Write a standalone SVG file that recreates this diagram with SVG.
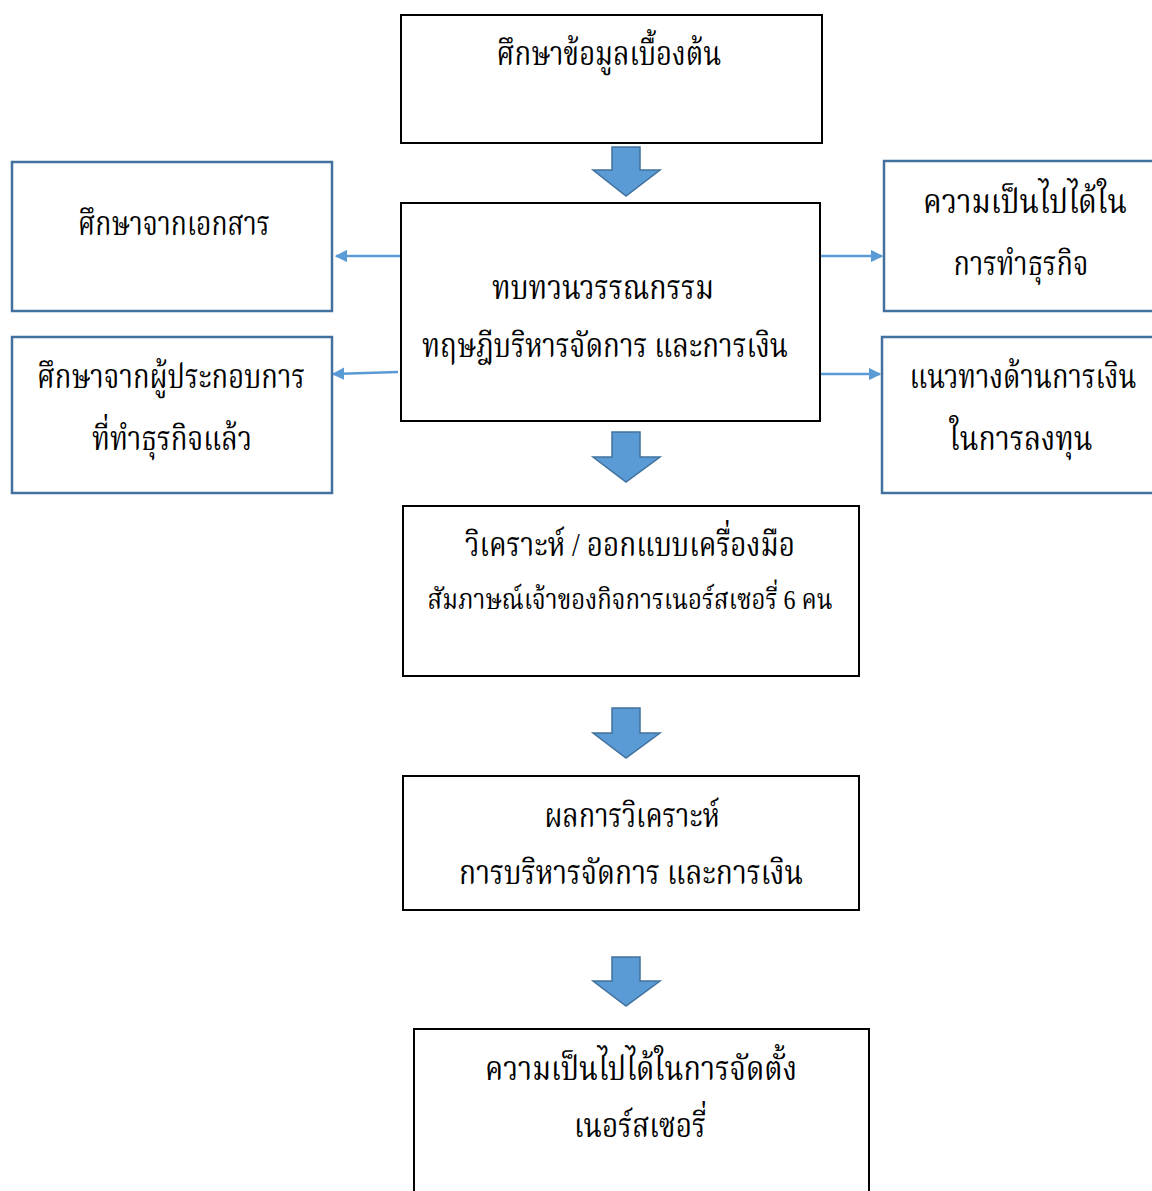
<svg xmlns="http://www.w3.org/2000/svg" width="1152" height="1191" viewBox="0 0 1152 1191">
<defs>
<style>
.bk{fill:#fff;stroke:#000;stroke-width:2}
.bl{fill:#fff;stroke:#41719c;stroke-width:2.5}
.ba{fill:#5b9bd5;stroke:#41719c;stroke-width:1.5}
.cn{fill:none;stroke:#5b9bd5;stroke-width:2.5}
text{font-family:"Liberation Serif","Noto Serif Thai","Noto Sans Thai",serif;font-size:34px;fill:#000;text-anchor:middle}
.sm{font-size:28px}
</style>
<marker id="ah" viewBox="0 0 10 10" refX="9" refY="5" markerWidth="5" markerHeight="5" orient="auto" markerUnits="strokeWidth">
<path d="M0,0 L10,5 L0,10 z" fill="#5b9bd5"/>
</marker>
</defs>
<rect width="1152" height="1191" fill="#fff"/>
<g id="connectors">
<line class="cn" x1="400" y1="256" x2="336" y2="256" marker-end="url(#ah)"/>
<line class="cn" x1="398" y1="372" x2="333" y2="374" marker-end="url(#ah)"/>
<line class="cn" x1="820" y1="256" x2="882" y2="256" marker-end="url(#ah)"/>
<line class="cn" x1="820" y1="374" x2="880" y2="374" marker-end="url(#ah)"/>
<path class="ba" d="M612,147 H640 V170 H660 L626,196 L593,170 H612 Z"/>
<path class="ba" d="M612,432 H640 V457 H660 L626,482 L593,457 H612 Z"/>
<path class="ba" d="M612,708 H640 V733 H660 L626,758 L593,733 H612 Z"/>
<path class="ba" d="M612,957 H640 V981 H660 L626,1006 L593,981 H612 Z"/>
</g>
<g id="n1">
<rect class="bk" x="401" y="15" width="421" height="128"/>
<text x="609" y="65" textLength="225" lengthAdjust="spacingAndGlyphs">ศึกษาข้อมูลเบื้องต้น</text>
</g>
<g id="n2">
<rect class="bk" x="401" y="203" width="419" height="218"/>
<text x="603" y="299" textLength="222" lengthAdjust="spacingAndGlyphs">ทบทวนวรรณกรรม</text>
<text x="605" y="357" textLength="366" lengthAdjust="spacingAndGlyphs">ทฤษฎีบริหารจัดการ และการเงิน</text>
</g>
<g id="nl1">
<rect class="bl" x="12" y="162" width="320" height="149"/>
<text x="174" y="235" textLength="192" lengthAdjust="spacingAndGlyphs">ศึกษาจากเอกสาร</text>
</g>
<g id="nl2">
<rect class="bl" x="12" y="337" width="320" height="156"/>
<text x="171" y="388" textLength="268" lengthAdjust="spacingAndGlyphs">ศึกษาจากผู้ประกอบการ</text>
<text x="172" y="450" textLength="160" lengthAdjust="spacingAndGlyphs">ที่ทำธุรกิจแล้ว</text>
</g>
<g id="nr1">
<rect class="bl" x="884" y="161" width="280" height="150"/>
<text x="1025" y="213" textLength="204" lengthAdjust="spacingAndGlyphs">ความเป็นไปได้ใน</text>
<text x="1021" y="275" textLength="135" lengthAdjust="spacingAndGlyphs">การทำธุรกิจ</text>
</g>
<g id="nr2">
<rect class="bl" x="882" y="337" width="282" height="156"/>
<text x="1023" y="388" textLength="227" lengthAdjust="spacingAndGlyphs">แนวทางด้านการเงิน</text>
<text x="1021" y="450" textLength="143" lengthAdjust="spacingAndGlyphs">ในการลงทุน</text>
</g>
<g id="n3">
<rect class="bk" x="403" y="506" width="456" height="170"/>
<text x="630" y="556" textLength="330" lengthAdjust="spacingAndGlyphs">วิเคราะห์ / ออกแบบเครื่องมือ</text>
<text class="sm" x="630" y="609" textLength="405" lengthAdjust="spacingAndGlyphs">สัมภาษณ์เจ้าของกิจการเนอร์สเซอรี่ 6 คน</text>
</g>
<g id="n4">
<rect class="bk" x="403" y="776" width="456" height="134"/>
<text x="632" y="827" textLength="175" lengthAdjust="spacingAndGlyphs">ผลการวิเคราะห์</text>
<text x="631" y="884" textLength="344" lengthAdjust="spacingAndGlyphs">การบริหารจัดการ  และการเงิน</text>
</g>
<g id="n5">
<rect class="bk" x="414" y="1029" width="455" height="175"/>
<text x="641" y="1080" textLength="312" lengthAdjust="spacingAndGlyphs">ความเป็นไปได้ในการจัดตั้ง</text>
<text x="640" y="1137" textLength="132" lengthAdjust="spacingAndGlyphs">เนอร์สเซอรี่</text>
</g>
</svg>
